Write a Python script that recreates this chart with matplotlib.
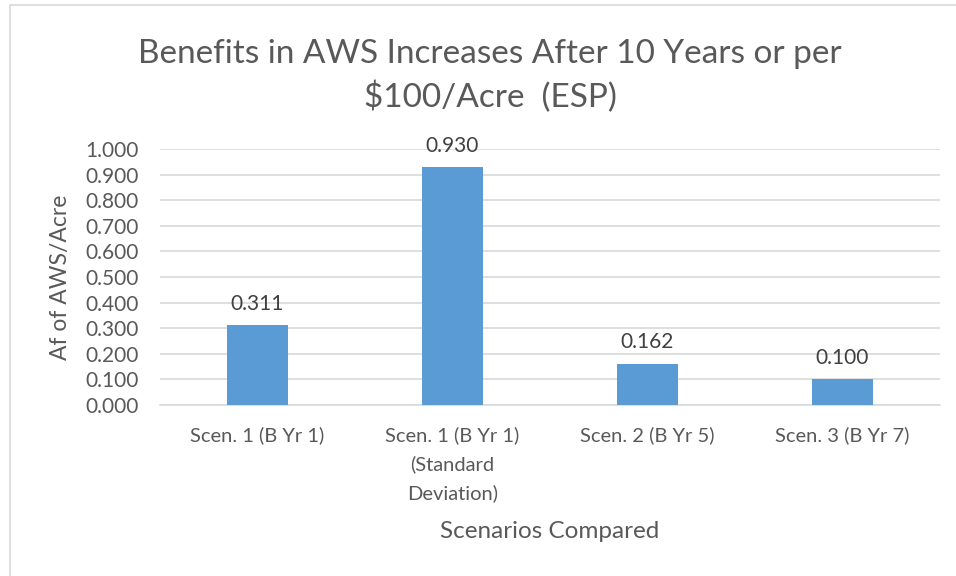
import matplotlib
matplotlib.use('Agg')
import matplotlib.pyplot as plt
from matplotlib.patches import Rectangle

# Chart data
categories = ['Scen. 1 (B Yr 1)', 'Scen. 1 (B Yr 1)\n(Standard\nDeviation)',
              'Scen. 2 (B Yr 5)', 'Scen. 3 (B Yr 7)']
values = [0.311, 0.930, 0.162, 0.100]
yticks = [0.0, 0.1, 0.2, 0.3, 0.4, 0.5, 0.6, 0.7, 0.8, 0.9, 1.0]

text_col = '#595959'
grid_col = '#d9d9d9'
bar_col = '#5b9bd5'
plt.rcParams['font.family'] = ['Lato', 'DejaVu Sans']

W, H = 956, 576
fig = plt.figure(figsize=(W / 100, H / 100), dpi=100)

# Chart-area border (only top/left visible in the crop)
fig.patches.append(Rectangle((10 / W, -0.1), 1.2, 1 - 5 / H + 0.1,
                             transform=fig.transFigure, fill=False,
                             edgecolor='#d9d9d9', lw=1.2))

ax = fig.add_axes([160 / W, 1 - 405 / H, 780 / W, 256 / H])
x = range(len(categories))
bars = ax.bar(x, values, width=0.31, color=bar_col, zorder=3)

ax.set_xlim(-0.5, len(categories) - 0.5)
ax.set_ylim(0, 1.0)
ax.set_yticks(yticks)
ax.set_yticklabels(['{:.3f}'.format(t) for t in yticks])
ax.set_xticks(list(x))
ax.set_xticklabels(categories, linespacing=1.75, va='top')
ax.tick_params(length=0, labelcolor=text_col)
ax.tick_params(axis='x', pad=15, labelsize=14.5)
ax.tick_params(axis='y', pad=15.5, labelsize=15)
ax.grid(axis='y', color=grid_col, lw=1.2, zorder=0)
for s in ['top', 'right', 'left']:
    ax.spines[s].set_visible(False)
ax.spines['bottom'].set_color(grid_col)
ax.spines['bottom'].set_linewidth(1.2)

# Data labels
for b, v in zip(bars, values):
    ax.annotate('{:.3f}'.format(v), (b.get_x() + b.get_width() / 2, v),
                xytext=(0, 8), textcoords='offset points',
                ha='center', va='bottom', fontsize=15, color='#404040')

fig.text(61 / W, 1 - 277 / H, 'Af of AWS/Acre', rotation=90, ha='center', va='center',
         fontsize=16.5, color=text_col)
fig.text(550 / W, 1 - 531 / H, 'Scenarios Compared', ha='center', va='center',
         fontsize=17.5, color=text_col)
fig.text(490 / W, 1 - 76 / H, 'Benefits in AWS Increases After 10 Years or per\n$100/Acre  (ESP)',
         ha='center', va='center', fontsize=24, color=text_col, linespacing=1.45)

fig.savefig('out.png', dpi=100)
